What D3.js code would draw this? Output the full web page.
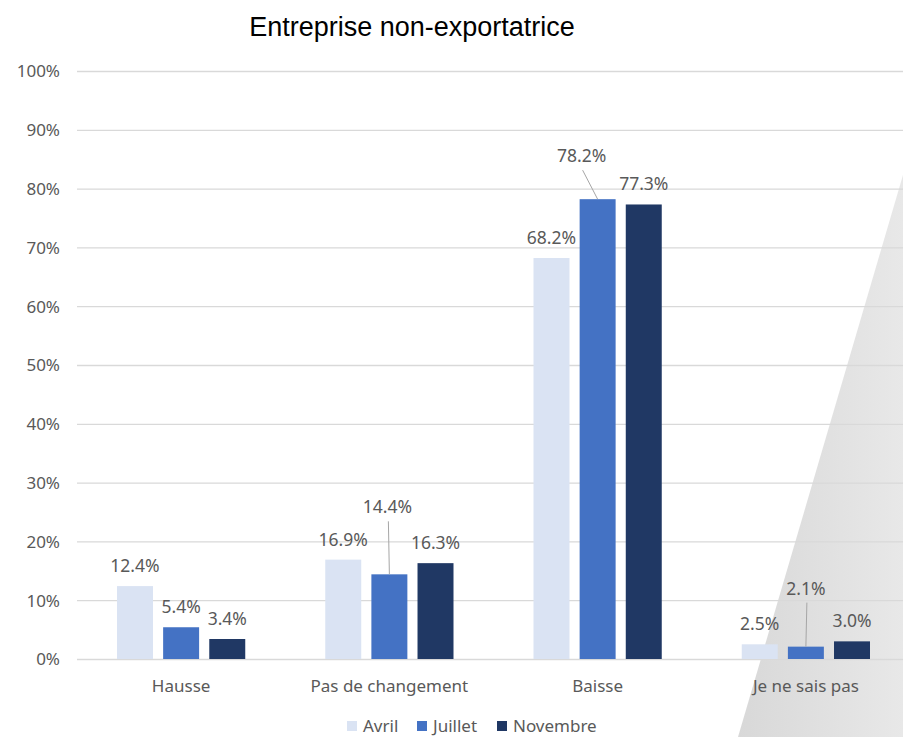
<!DOCTYPE html>
<html>
<head>
<meta charset="utf-8">
<script src="https://cdn.jsdelivr.net/npm/d3@7"></script>
<style>
  body { margin: 0; background: #fff; }
  svg text { font-family: "Noto Sans", "Open Sans", sans-serif; fill: #595959; }
</style>
</head>
<body>
<div id="chart"></div>
<script>
// données
const categories = ["Hausse", "Pas de changement", "Baisse", "Je ne sais pas"];
const series = ["Avril", "Juillet", "Novembre"];
const avril = [12.4, 16.9, 68.2, 2.5];
const juillet = [5.4, 14.4, 78.2, 2.1];
const novembre = [3.4, 16.3, 77.3, 3.0];
const yTicks = [0, 10, 20, 30, 40, 50, 60, 70, 80, 90, 100];

const colors = { Avril: "#dae3f3", Juillet: "#4472c4", Novembre: "#203864" };
// étiquettes déplacées (avec trait de rappel) : [série, catégorie, dx, dy]
const moved = [["Juillet", 2, -16, -37], ["Juillet", 1, -2, -61], ["Juillet", 3, 0, -52]];

const W = 903, H = 737;
const plotLeft = 77, plotRight = 910, plotTop = 71, plotBottom = 659;

const svg = d3.select("#chart").append("svg")
  .attr("width", W).attr("height", H);

// triangle gris en bas à droite
const grad = svg.append("defs").append("linearGradient")
  .attr("id", "tri").attr("gradientUnits", "userSpaceOnUse")
  .attr("x1", 738).attr("x2", 903).attr("y1", 0).attr("y2", 0);
grad.append("stop").attr("offset", 0).attr("stop-color", "#d8d8d8");
grad.append("stop").attr("offset", 1).attr("stop-color", "#e8e8e8");
svg.append("path")
  .attr("d", "M903,175 L903,737 L738,737 Z")
  .attr("fill", "url(#tri)");

const data = series.map((s, i) => ({
  name: s,
  values: [avril, juillet, novembre][i]
}));

const x0 = d3.scaleBand().domain(categories).range([plotLeft, plotRight]);
const x1 = d3.scaleBand().domain(series)
  .range([40, x0.bandwidth() - 40]).paddingInner(0.22);
const y = d3.scaleLinear().domain([0, 100]).range([plotBottom, plotTop]);

// grille + axe Y
const yAxis = svg.append("g")
  .attr("transform", `translate(${plotLeft},0)`)
  .call(d3.axisLeft(y).tickValues(yTicks).tickSize(-(W - plotLeft)).tickFormat(d => d + "%"));
yAxis.select(".domain").remove();
yAxis.selectAll(".tick line").attr("stroke", "#d9d9d9").attr("stroke-width", 1.3);
yAxis.selectAll(".tick text").attr("x", -17).attr("dy", "0.35em")
  .style("font-size", "17px");

// axe X (catégories)
svg.append("g").selectAll("text")
  .data(categories).join("text")
  .attr("x", d => x0(d) + x0.bandwidth() / 2)
  .attr("y", 692)
  .attr("text-anchor", "middle")
  .style("font-size", "17px")
  .text(d => d);

// barres
const groups = svg.selectAll(".serie").data(data).join("g").attr("class", "serie");
groups.selectAll("rect")
  .data(d => d.values.map((v, i) => ({ s: d.name, c: categories[i], v })))
  .join("rect")
  .attr("x", d => x0(d.c) + x1(d.s))
  .attr("y", d => y(d.v))
  .attr("width", x1.bandwidth())
  .attr("height", d => y(0) - y(d.v))
  .attr("fill", d => colors[d.s]);

// étiquettes de valeurs
const labels = [];
data.forEach(d => d.values.forEach((v, i) => {
  const m = moved.find(k => k[0] === d.name && k[1] === i);
  const cx = x0(categories[i]) + x1(d.name) + x1.bandwidth() / 2;
  labels.push({ v, cx, barTop: y(v), dx: m ? m[2] : 0, dy: m ? m[3] : -14, moved: !!m });
}));

svg.append("g").selectAll("line")
  .data(labels.filter(d => d.moved)).join("line")
  .attr("x1", d => d.cx + d.dx + 1).attr("y1", d => d.barTop + d.dy + 8)
  .attr("x2", d => d.cx).attr("y2", d => d.barTop)
  .attr("stroke", "#a6a6a6").attr("stroke-width", 1);

svg.append("g").selectAll("text")
  .data(labels).join("text")
  .attr("x", d => d.cx + d.dx)
  .attr("y", d => d.barTop + d.dy)
  .attr("text-anchor", "middle")
  .style("font-size", "17.5px")
  .text(d => d.v.toFixed(1) + "%");

// titre
svg.append("text")
  .attr("x", 412).attr("y", 36)
  .attr("text-anchor", "middle")
  .style("font-family", "'Liberation Sans', Arial, sans-serif")
  .style("font-size", "27px")
  .style("fill", "#000")
  .text("Entreprise non-exportatrice");

// légende
const legX = [347, 417, 497];
const leg = svg.append("g").selectAll("g").data(series).join("g")
  .attr("transform", (d, i) => `translate(${legX[i]},721)`);
leg.append("rect").attr("width", 10).attr("height", 10).attr("fill", d => colors[d]);
leg.append("text").attr("x", 16).attr("y", 10.5)
  .style("font-size", "17px").text(d => d);
</script>
</body>
</html>
